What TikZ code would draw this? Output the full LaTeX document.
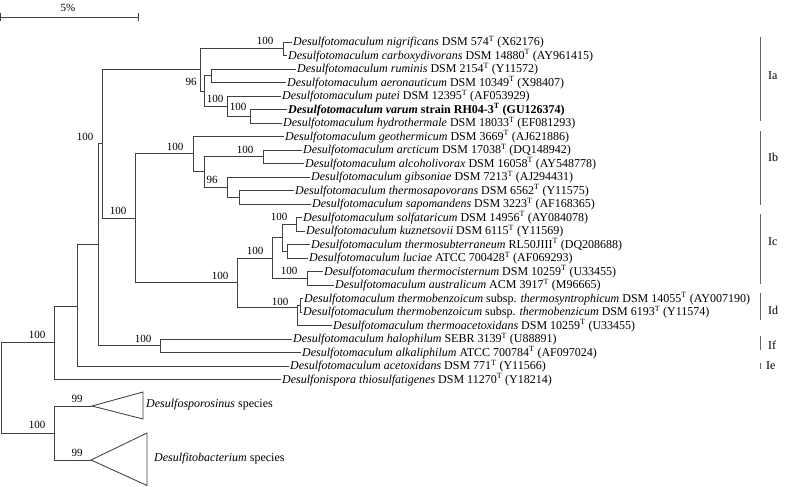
\documentclass[tikz,border=0pt]{standalone}
\usepackage{fontspec}
\setmainfont{Liberation Serif}
\newcommand\tsp{\textsuperscript{T}}
\newcommand\dsm{\textit{Desulfotomaculum}}
\begin{document}
\begin{tikzpicture}[x=1pt,y=-1pt,
  br/.style={draw=black!75, line width=0.85pt},
  tx/.style={anchor=west, inner sep=1pt, font=\fontsize{12}{12}\selectfont},
  bs/.style={inner sep=0pt, font=\fontsize{11}{12}\selectfont},
  grpbar/.style={draw=black!60, line width=0.8pt},
  grp/.style={anchor=west, inner sep=0pt, font=\fontsize{12}{12}\selectfont}]
\fill[white] (0,0) rectangle (785,487);
\useasboundingbox (0,0) rectangle (785,487);

% scale bar
\coordinate (s0) at (0.5,17);
\coordinate (s1) at (138,17);
\draw[br] (s0) -- (s1);
\draw[br] ([yshift=-4pt]s0) -- ([yshift=4pt]s0);
\draw[br] ([yshift=-4pt]s1) -- ([yshift=4pt]s1);
\node[bs] (scl) at (68,8) {5\%};

% internal nodes
\coordinate (R) at (1,387.5);
\coordinate (nA) at (54,342);
\coordinate (nB) at (54,433);
\coordinate (n77) at (77,306);
\coordinate (n98) at (98,244.5);
\coordinate (n102) at (102,143.5);
\coordinate (n160) at (160,345.75);
\coordinate (n200) at (200,69.5);
\coordinate (n283) at (283,48.75);
\coordinate (n204) at (204,91);
\coordinate (n211) at (211,75.75);
\coordinate (n227a) at (227,106);
\coordinate (n250) at (250,116.25);
\coordinate (n135) at (135,218);
\coordinate (n193) at (193,153.5);
\coordinate (n204b) at (204,171);
\coordinate (n263) at (263,156.75);
\coordinate (n227b) at (227,187);
\coordinate (n239) at (239,197.25);
\coordinate (n237) at (237,282.5);
\coordinate (n272) at (272,258);
\coordinate (n282) at (282,237.75);
\coordinate (n296) at (296,224.25);
\coordinate (n287) at (287,251.25);
\coordinate (n307) at (307,278.25);
\coordinate (n297) at (297,307);
\coordinate (n300) at (300,305.25);

% leaves
\node[tx] (L0) at (292,42) {\dsm\ \textit{nigrificans} DSM 574\tsp\ (X62176)};
\node[tx] (L1) at (287,55.5) {\dsm\ \textit{carboxydivorans} DSM 14880\tsp\ (AY961415)};
\node[tx] (L2) at (296,69) {\dsm\ \textit{ruminis} DSM 2154\tsp\ (Y11572)};
\node[tx] (L3) at (286,82.5) {\dsm\ \textit{aeronauticum} DSM 10349\tsp\ (X98407)};
\node[tx] (L4) at (281,96) {\dsm\ \textit{putei} DSM 12395\tsp\ (AF053929)};
\node[tx] (L5) at (287,109.5) {\bfseries\itshape Desulfotomaculum varum\upshape\ strain RH04-3\tsp\ (GU126374)};
\node[tx] (L6) at (282,123) {\dsm\ \textit{hydrothermale} DSM 18033\tsp\ (EF081293)};
\node[tx] (L7) at (284,136.5) {\dsm\ \textit{geothermicum} DSM 3669\tsp\ (AJ621886)};
\node[tx] (L8) at (302,150) {\dsm\ \textit{arcticum} DSM 17038\tsp\ (DQ148942)};
\node[tx] (L9) at (304,163.5) {\dsm\ \textit{alcoholivorax} DSM 16058\tsp\ (AY548778)};
\node[tx] (L10) at (310,177) {\dsm\ \textit{gibsoniae} DSM 7213\tsp\ (AJ294431)};
\node[tx] (L11) at (294,190.5) {\dsm\ \textit{thermosapovorans} DSM 6562\tsp\ (Y11575)};
\node[tx] (L12) at (311,204) {\dsm\ \textit{sapomandens} DSM 3223\tsp\ (AF168365)};
\node[tx] (L13) at (302,217.5) {\dsm\ \textit{solfataricum} DSM 14956\tsp\ (AY084078)};
\node[tx] (L14) at (305,231) {\dsm\ \textit{kuznetsovii} DSM 6115\tsp\ (Y11569)};
\node[tx] (L15) at (310,244.5) {\dsm\ \textit{thermosubterraneum} RL50JIII\tsp\ (DQ208688)};
\node[tx] (L16) at (308,258) {\dsm\ \textit{luciae} ATCC 700428\tsp\ (AF069293)};
\node[tx] (L17) at (323,271.5) {\dsm\ \textit{thermocisternum} DSM 10259\tsp\ (U33455)};
\node[tx] (L18) at (334,285) {\dsm\ \textit{australicum} ACM 3917\tsp\ (M96665)};
\node[tx] (L19) at (303,298.5) {\dsm\ \textit{thermobenzoicum} subsp. \textit{thermosyntrophicum} DSM 14055\tsp\ (AY007190)};
\node[tx] (L20) at (302,312) {\dsm\ \textit{thermobenzoicum} subsp. \textit{thermobenzicum} DSM 6193\tsp\ (Y11574)};
\node[tx] (L21) at (332,325.5) {\dsm\ \textit{thermoacetoxidans} DSM 10259\tsp\ (U33455)};
\node[tx] (L22) at (292,339) {\dsm\ \textit{halophilum} SEBR 3139\tsp\ (U88891)};
\node[tx] (L23) at (301,352.5) {\dsm\ \textit{alkaliphilum} ATCC 700784\tsp\ (AF097024)};
\node[tx] (L24) at (289,366) {\dsm\ \textit{acetoxidans} DSM 771\tsp\ (Y11566)};
\node[tx] (L25) at (281,379.5) {\textit{Desulfonispora thiosulfatigenes} DSM 11270\tsp\ (Y18214)};

% collapsed clades
\coordinate (sA) at (92,406);
\coordinate (sB) at (143,392);
\coordinate (sC) at (143,419);
\coordinate (bA) at (91,460);
\coordinate (bB) at (147,433);
\coordinate (bC) at (147,485.5);
\node[tx] (Lsp) at (145,405) {\textit{Desulfosporosinus} species};
\node[tx] (Lbt) at (153,459) {\textit{Desulfitobacterium} species};

% branches
\draw[br] (R) |- (nA);  \draw[br] (R) |- (nB);
\draw[br] (nA) |- (n77); \draw[br] (nA) |- (L25.west);
\draw[br] (n77) |- (n98); \draw[br] (n77) |- (L24.west);
\draw[br] (n98) |- (n102); \draw[br] (n98) |- (n160);
\draw[br] (n160) |- (L22.west); \draw[br] (n160) |- (L23.west);
\draw[br] (n102) |- (n200); \draw[br] (n102) |- (n135);
\draw[br] (n200) |- (n283); \draw[br] (n200) |- (n204);
\draw[br] (n283) |- (L0.west); \draw[br] (n283) |- (L1.west);
\draw[br] (n204) |- (n211); \draw[br] (n204) |- (n227a);
\draw[br] (n211) |- (L2.west); \draw[br] (n211) |- (L3.west);
\draw[br] (n227a) |- (L4.west); \draw[br] (n227a) |- (n250);
\draw[br] (n250) |- (L5.west); \draw[br] (n250) |- (L6.west);
\draw[br] (n135) |- (n193); \draw[br] (n135) |- (n237);
\draw[br] (n193) |- (L7.west); \draw[br] (n193) |- (n204b);
\draw[br] (n204b) |- (n263); \draw[br] (n204b) |- (n227b);
\draw[br] (n263) |- (L8.west); \draw[br] (n263) |- (L9.west);
\draw[br] (n227b) |- (L10.west); \draw[br] (n227b) |- (n239);
\draw[br] (n239) |- (L11.west); \draw[br] (n239) |- (L12.west);
\draw[br] (n237) |- (n272); \draw[br] (n237) |- (n297);
\draw[br] (n272) |- (n282); \draw[br] (n272) |- (n307);
\draw[br] (n282) |- (n296); \draw[br] (n282) |- (n287);
\draw[br] (n296) |- (L13.west); \draw[br] (n296) |- (L14.west);
\draw[br] (n287) |- (L15.west); \draw[br] (n287) |- (L16.west);
\draw[br] (n307) |- (L17.west); \draw[br] (n307) |- (L18.west);
\draw[br] (n297) |- (n300); \draw[br] (n297) |- (L21.west);
\draw[br] (n300) |- (L19.west); \draw[br] (n300) |- (L20.west);
\draw[br] (nB) |- (sA); \draw[br] (nB) |- (bA);
\draw[br] (sA) -- (sB) -- (sC) -- cycle;
\draw[br] (bA) -- (bB) -- (bC) -- cycle;

% bootstrap values
\node[bs] (b1) at (37,335) {100};
\node[bs] (b2) at (37,425) {100};
\node[bs] (b3) at (85,137) {100};
\node[bs] (b4) at (143,339) {100};
\node[bs] (b5) at (265,41) {100};
\node[bs] (b6) at (191,82) {96};
\node[bs] (b7) at (215,99) {100};
\node[bs] (b8) at (238,107) {100};
\node[bs] (b9) at (118,211) {100};
\node[bs] (b10) at (175,147) {100};
\node[bs] (b11) at (245,150) {100};
\node[bs] (b12) at (212,180) {96};
\node[bs] (b13) at (220,276) {100};
\node[bs] (b14) at (255,251) {100};
\node[bs] (b15) at (279,217) {100};
\node[bs] (b16) at (289,271) {100};
\node[bs] (b17) at (280,302) {100};
\node[bs] (b18) at (77,399) {99};
\node[bs] (b19) at (77,453) {99};

% groups
\draw[grpbar] (760,37) -- (760,121);  \node[grp] (gIa) at (768,76) {Ia};
\draw[grpbar] (760,131) -- (760,205); \node[grp] (gIb) at (768,157) {Ib};
\draw[grpbar] (760,214) -- (760,284); \node[grp] (gIc) at (768,242) {Ic};
\draw[grpbar] (760,293) -- (760,320); \node[grp] (gId) at (768,310) {Id};
\draw[grpbar] (760,336) -- (760,350); \node[grp] (gIf) at (768,345) {If};
\draw[grpbar] (760,363) -- (760,369); \node[grp] (gIe) at (766,366) {Ie};
\end{tikzpicture}
\end{document}
